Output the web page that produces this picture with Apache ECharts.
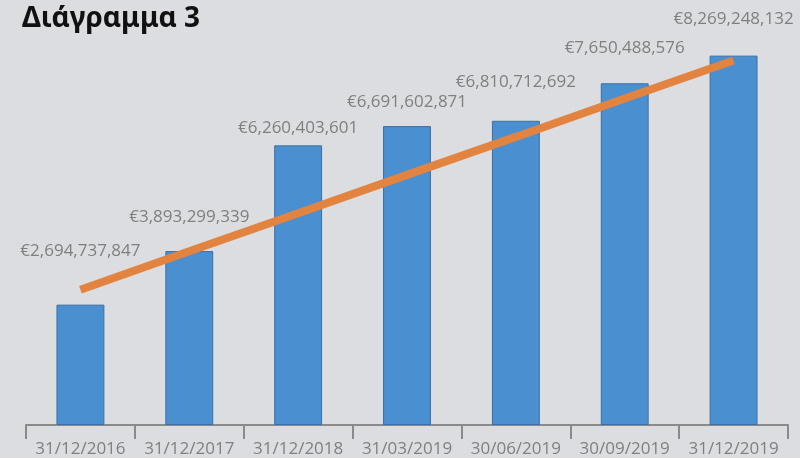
<!DOCTYPE html>
<html><head><meta charset="utf-8">
<script src="https://cdn.jsdelivr.net/npm/echarts@6/dist/echarts.min.js"></script>
<style>html,body{margin:0;padding:0;background:#dcdde0}#c{width:800px;height:458px}</style>
</head><body><div id="c"></div>
<script>
const categories = ['31/12/2016','31/12/2017','31/12/2018','31/03/2019','30/06/2019','30/09/2019','31/12/2019'];
const values = [2694737847, 3893299339, 6260403601, 6691602871, 6810712692, 7650488576, 8269248132];
const trend = [3030000000, 3890000000, 4740000000, 5600000000, 6450000000, 7310000000, 8160000000];
const labelLift = [45, 25, 9, 15, 30, 27, 28];

const fmt = v => '€' + v.toLocaleString('en-US');
const chart = echarts.init(document.getElementById('c'), null, {renderer:'canvas'});
chart.setOption({
  backgroundColor: '#dcdde0',
  animation: false,
  title: { text: 'Διάγραμμα 3', left: 17, top: 0,
    textStyle: { fontFamily: 'Noto Sans', fontWeight: 'bold', fontSize: 28, color: '#111' } },
  grid: { left: 26, right: 12, top: 23, bottom: 33 },
  xAxis: {
    type: 'category', data: categories,
    axisLine: { lineStyle: { color: '#8a8a8a', width: 2 } },
    axisTick: { show: true, length: 14, alignWithLabel: false, lineStyle: { color: '#8a8a8a', width: 2 } },
    axisLabel: { color: '#808080', fontFamily: 'Open Sans', fontSize: 17, margin: 16, interval: 0 }
  },
  yAxis: { type: 'value', min: 0, max: 9000000000, show: false, splitLine: { show: false } },
  series: [
    { type: 'bar', barWidth: '44%',
      data: values.map((v, i) => ({ value: v, label: { distance: labelLift[i] } })),
      itemStyle: { color: '#4a8fd0', borderColor: '#3b6fa5', borderWidth: 1 },
      label: { show: true, position: 'top', formatter: p => fmt(p.value),
        color: '#7f7f7f', fontFamily: 'Open Sans', fontSize: 17 } },
    { type: 'line', data: trend, showSymbol: false, symbol: 'none',
      lineStyle: { color: '#e2843f', width: 8, cap: 'butt' }, z: 5 }
  ]
});
</script></body></html>
